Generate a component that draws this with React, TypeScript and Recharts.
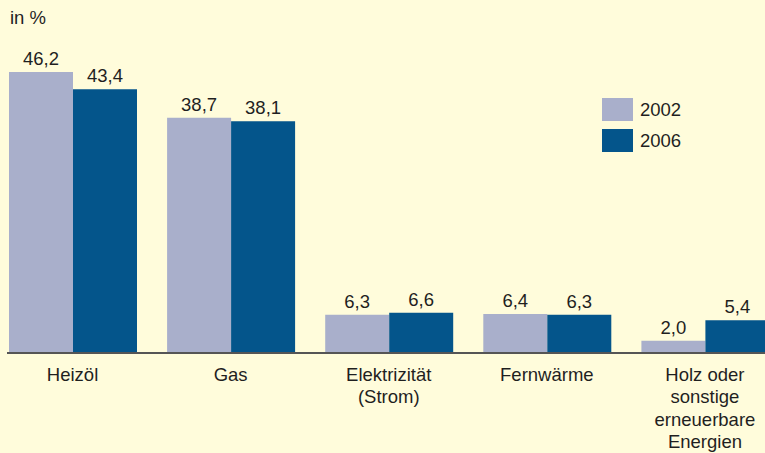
import { Bar, BarChart, LabelList, XAxis, YAxis } from 'recharts'

const categories = ['Heizöl', 'Gas', 'Elektrizität\n(Strom)', 'Fernwärme', 'Holz oder\nsonstige\nerneuerbare\nEnergien']
const values2002 = [46.2, 38.7, 6.3, 6.4, 2.0]
const values2006 = [43.4, 38.1, 6.6, 6.3, 5.4]
const years = ['2002', '2006']

const COLORS = ['#a9afcb', '#04558b']
const BG = '#fffcdb'
const TEXT = '#1f1f1f'

const data = categories.map((name, i) => ({ name, y2002: values2002[i], y2006: values2006[i] }))

const fmt = (v: unknown) => Number(v).toFixed(1).replace('.', ',')

function CategoryTick({ x, y, payload }: any) {
  const lines = String(payload.value).split('\n')
  return (
    <text x={x} y={y} textAnchor="middle" fill={TEXT} fontSize={18.5} fontFamily="'Liberation Sans', Arial, sans-serif">
      {lines.map((line, i) => (
        <tspan key={i} x={x} dy={i === 0 ? 28 : 22.3}>
          {line}
        </tspan>
      ))}
    </text>
  )
}

export default function App() {
  return (
    <div
      style={{
        position: 'absolute',
        left: 0,
        top: 0,
        width: 765,
        height: 453,
        overflow: 'hidden',
        background: BG,
        fontFamily: "'Liberation Sans', Arial, sans-serif",
        color: TEXT,
      }}
    >
      <div style={{ position: 'absolute', left: 10, top: 7, fontSize: 18.5, lineHeight: '22px' }}>in %</div>
      <BarChart
        width={784}
        height={453}
        data={data}
        margin={{ top: 49, right: 0, bottom: 70, left: 7 }}
        barCategoryGap={15.5}
        barGap={0}
      >
        <XAxis
          dataKey="name"
          interval={0}
          height={30}
          padding={{ left: -13.5, right: 0 }}
          axisLine={{ stroke: '#555', strokeWidth: 2 }}
          tickLine={false}
          tickSize={0}
          tickMargin={0}
          tick={<CategoryTick />}
        />
        <YAxis hide domain={[0, 50]} />
        {years.map((year, i) => (
          <Bar key={year} dataKey={`y${year}`} fill={COLORS[i]} isAnimationActive={false}>
            <LabelList
              dataKey={`y${year}`}
              position="top"
              offset={7}
              formatter={fmt}
              fill={TEXT}
              fontSize={18.5}
              fontFamily="'Liberation Sans', Arial, sans-serif"
            />
          </Bar>
        ))}
      </BarChart>
      <div style={{ position: 'absolute', left: 602, top: 98 }}>
        {years.map((year, i) => (
          <div key={year} style={{ display: 'flex', alignItems: 'center', height: 23, marginBottom: 8 }}>
            <div style={{ width: 31, height: 23, background: COLORS[i] }} />
            <span style={{ marginLeft: 7, fontSize: 18.5, lineHeight: '23px' }}>{year}</span>
          </div>
        ))}
      </div>
    </div>
  )
}
